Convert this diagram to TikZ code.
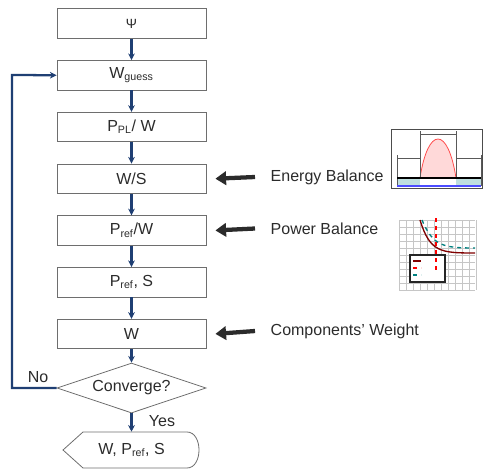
\documentclass[tikz,border=0pt]{standalone}
\usepackage{fontspec}
\setmainfont{Liberation Sans}
\usetikzlibrary{shapes.geometric, positioning, calc, arrows.meta}
\usepackage{xcolor}
\definecolor{flowblue}{HTML}{1F3F73}
\definecolor{boxgray}{HTML}{6E6E6E}
\definecolor{inktext}{HTML}{2B2B2B}

\tikzset{
    stepbox/.style={draw=boxgray, line width=0.6pt, minimum width=111.75pt,
        minimum height=22.1pt, inner sep=0pt, text=inktext,
        font=\fontsize{12}{14}\selectfont},
    flow/.style={flowblue, line width=1.7pt, -{Stealth[length=5pt, width=5pt]}},
    hint/.style={inktext, line width=3.2pt, -{Triangle[length=8pt, width=10pt]}},
    hinttext/.style={anchor=west, text=inktext, font=\fontsize{12}{14}\selectfont},
}

\begin{document}
\begin{tikzpicture}[x=0.75pt, y=-0.75pt, node distance=16.1pt]
    \useasboundingbox (0,0) rectangle (483,469);

    % Main chain of boxes
    \node[stepbox] (psi) at (131.5,23.5) {\fontsize{10}{12}\selectfont Ψ};
    \node[stepbox, below=of psi] (guess) {W\textsubscript{guess}};
    \node[stepbox, below=of guess] (ppl) {P\textsubscript{PL}/ W};
    \node[stepbox, below=of ppl] (ws) {W/S};
    \node[stepbox, below=of ws] (prefw) {P\textsubscript{ref}/W};
    \node[stepbox, below=of prefw] (prefs) {P\textsubscript{ref}, S};
    \node[stepbox, below=of prefs] (wt) {W};

    % Decision and result
    \node[diamond, draw=boxgray, line width=0.6pt, aspect=3, inner sep=0pt,
        minimum width=111.75pt, minimum height=37.5pt, text=inktext,
        font=\fontsize{12}{14}\selectfont] (conv) at (131.5,388) {Converge?};
    \node[minimum height=27pt, inner sep=0pt, text=inktext,
        font=\fontsize{12}{14}\selectfont] (res) at (131.5,450) {W, P\textsubscript{ref}, S};
    \draw[boxgray, line width=0.6pt] (63,450) -- (83,432) -- (187,432)
        .. controls (203,432) and (203,468) .. (187,468) -- (83,468) -- cycle;

    % Flow arrows
    \draw[flow] (psi) -- (guess);
    \draw[flow] (guess) -- (ppl);
    \draw[flow] (ppl) -- (ws);
    \draw[flow] (ws) -- (prefw);
    \draw[flow] (prefw) -- (prefs);
    \draw[flow] (prefs) -- (wt);
    \draw[flow] (wt) -- (conv.north);
    \draw[flow] (conv.south) -- (res.north);

    % Loop back
    \coordinate (loopB) at (12,388);
    \coordinate (loopT) at (12,75);
    \draw[flow] (conv.west) -- (loopB) -- (loopT) -- (guess.west);
    \node[text=inktext, font=\fontsize{12}{14}\selectfont] (no) at (38,377) {No};
    \node[text=inktext, font=\fontsize{12}{14}\selectfont] (yes) at (162,421) {Yes};

    % Side inputs
    \node[hinttext] (eb) at (266,177) {Energy Balance};
    \node[hinttext] (pb) at (266,228.5) {Power Balance};
    \node[hinttext] (cw) at (266,331) {Components' Weight};
    \draw[hint] ($(eb.west)+(-11,0)$) -- ($(ws.east)+(9,0)$);
    \draw[hint] ($(pb.west)+(-11,0)$) -- ($(prefw.east)+(9,0)$);
    \draw[hint] ($(cw.west)+(-11,0)$) -- ($(wt.east)+(9,0)$);

    % Energy balance sketch
    \fill[teal!25] (397,178) rectangle (420,186);
    \fill[teal!25] (456,178) rectangle (481,186);
    \fill[red!15] (420,178) .. controls (428,126) and (448,126) .. (456,178) -- cycle;
    \draw[red!70, line width=0.6pt] (420,178) .. controls (428,126) and (448,126) .. (456,178);
    \draw[gray!70!black, line width=0.4pt] (397,155) -- (397,186) (481,155) -- (481,186)
        (420,131) -- (420,178) (456,131) -- (456,178)
        (397,158) -- (420,158) (456,158) -- (481,158) (420,134) -- (456,134);
    \draw[line width=1.2pt] (397,178) -- (481,178);
    \draw[blue!70, line width=0.8pt] (397,186) -- (481,186);
    \draw[gray!60!black, line width=0.5pt] (391,129) rectangle (482,188);

    % Power balance sketch
    \foreach \x in {399,406,...,476} \draw[gray!45, line width=0.3pt] (\x,220) -- (\x,290);
    \foreach \y in {220,227,...,290} \draw[gray!45, line width=0.3pt] (399,\y) -- (475,\y);
    \draw[red!50!black, line width=1pt] (420,220) .. controls (430,252) and (440,253) .. (475,253);
    \draw[teal, dashed, line width=1pt] (422,220) .. controls (433,246) and (443,248) .. (475,248);
    \draw[gray!30!black, line width=0.8pt, fill=white] (410,255) rectangle (445,282);
    \draw[red!50!black, line width=0.8pt] (413,261) -- (421,261);
    \draw[red, dashed, line width=0.8pt] (413,268) -- (421,268);
    \draw[teal, dashed, line width=0.8pt] (413,275) -- (421,275);
    \draw[red, dashed, line width=1pt] (436,218) -- (436,271);
\end{tikzpicture}
\end{document}
